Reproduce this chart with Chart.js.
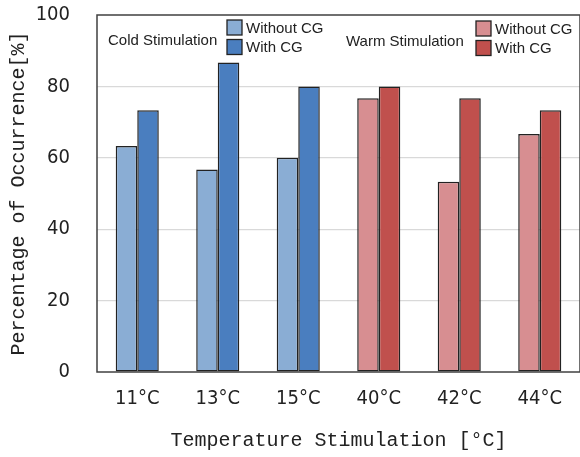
<!DOCTYPE html>
<html>
<head>
<meta charset="utf-8">
<script src="https://cdn.jsdelivr.net/npm/chart.js@4"></script>
<style>
  html, body { margin: 0; padding: 0; background: #fff; }
  #wrap { width: 580px; height: 457px; }
</style>
</head>
<body>
<div id="wrap"><canvas id="chart"></canvas></div>
<script>
const categories = ['11°C', '13°C', '15°C', '40°C', '42°C', '44°C'];
const withoutCG = [63.3, 56.7, 60, 76.7, 53.3, 66.7];
const withCG = [73.3, 86.7, 80, 80, 76.7, 73.3];
const yTicks = [0, 20, 40, 60, 80, 100];

const coldLight = '#8AADD4', coldDark = '#4A7EBF';
const warmLight = '#D78E91', warmDark = '#C0504D';
const edge = '#222';
const tickFont = { family: '"DejaVu Sans Condensed", "Liberation Sans", sans-serif', size: 20 };
const titleFont = { family: '"Liberation Mono", "DejaVu Sans Mono", monospace', size: 20 };

const isCold = i => i < 3;

// group labels + legend boxes drawn inside the plot
const groupLegend = {
    id: 'groupLegend',
    afterDraw(chart) {
        const ctx = chart.ctx;
        const a = chart.chartArea;
        ctx.save();
        ctx.strokeStyle = '#404040';
        ctx.lineWidth = 1.5;
        ctx.strokeRect(a.left, a.top, a.right - a.left, a.bottom - a.top);

        ctx.font = '15px "Liberation Sans", Arial, sans-serif';
        ctx.fillStyle = '#222';
        ctx.textBaseline = 'middle';
        ctx.textAlign = 'left';
        const groups = [
            { name: 'Cold Stimulation', nx: 108, ny: 41, bx: 227, by: 20, cols: [coldLight, coldDark] },
            { name: 'Warm Stimulation', nx: 346, ny: 42, bx: 476, by: 21, cols: [warmLight, warmDark] }
        ];
        const names = ['Without CG', 'With CG'];
        groups.forEach(g => {
            ctx.fillText(g.name, g.nx, g.ny);
            g.cols.forEach((c, k) => {
                const y = g.by + k * 19.5;
                ctx.fillStyle = c;
                ctx.fillRect(g.bx, y, 15, 15);
                ctx.strokeStyle = edge;
                ctx.lineWidth = 1.3;
                ctx.strokeRect(g.bx, y, 15, 15);
                ctx.fillStyle = '#222';
                ctx.fillText(names[k], g.bx + 19, y + 8.5);
            });
        });
        ctx.restore();
    }
};

new Chart(document.getElementById('chart'), {
    type: 'bar',
    data: {
        labels: categories,
        datasets: [{
            label: 'Without CG',
            data: withoutCG,
            backgroundColor: withoutCG.map((v, i) => isCold(i) ? coldLight : warmLight),
            borderColor: edge,
            borderWidth: 1.5,
            borderSkipped: false
        }, {
            label: 'With CG',
            data: withCG,
            backgroundColor: withCG.map((v, i) => isCold(i) ? coldDark : warmDark),
            borderColor: edge,
            borderWidth: 1.5,
            borderSkipped: false
        }]
    },
    options: {
        responsive: true,
        maintainAspectRatio: false,
        animation: false,
        layout: { padding: { top: 15, right: 0, left: 0, bottom: 0 } },
        plugins: { legend: { display: false }, tooltip: { enabled: false } },
        datasets: { bar: { categoryPercentage: 0.535, barPercentage: 1 } },
        scales: {
            x: {
                grid: { display: false },
                border: { display: false },
                ticks: { color: '#222', padding: 7, font: tickFont },
                title: {
                    display: true,
                    text: 'Temperature Stimulation [°C]',
                    color: '#222',
                    padding: { top: 0, bottom: 4 },
                    font: titleFont
                },
                afterFit(s) { s.height = 85; s.paddingLeft = 0; s.paddingRight = 0; }
            },
            y: {
                min: 0,
                max: 100,
                afterBuildTicks(s) { s.ticks = yTicks.map(v => ({ value: v })); },
                grid: {
                    drawTicks: false,
                    color: c => (c.tick.value === 0 || c.tick.value === 100) ? 'rgba(0,0,0,0)' : '#d9d9d9',
                    lineWidth: 1.2
                },
                border: { display: false },
                ticks: { color: '#222', padding: 27, font: tickFont },
                title: {
                    display: true,
                    text: 'Percentage of Occurrence[%]',
                    color: '#222',
                    padding: { top: 7, bottom: 0 },
                    font: titleFont
                },
                afterFit(s) { s.width = 97; s.paddingTop = 0; s.paddingBottom = 0; }
            }
        }
    },
    plugins: [groupLegend]
});
</script>
</body>
</html>
